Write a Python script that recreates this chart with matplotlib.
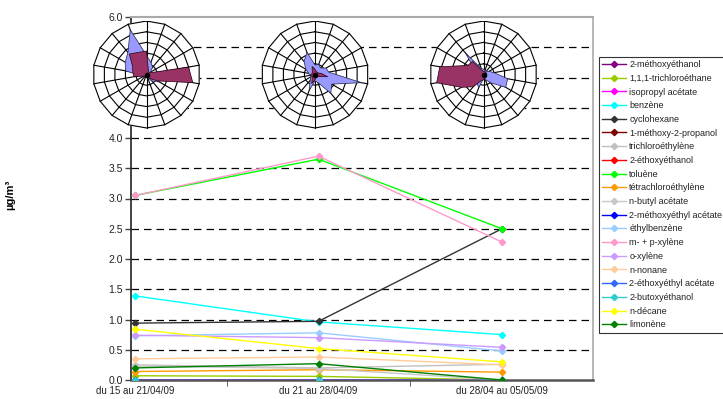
import matplotlib.pyplot as plt
import numpy as np
from matplotlib.lines import Line2D

plt.rcParams['font.family'] = ['Liberation Sans', 'DejaVu Sans']

###### DATA ####################
periods = ["du 15 au 21/04/09", "du 21 au 28/04/09", "du 28/04 au 05/05/09"]

compounds = ["2-méthoxyéthanol", "1,1,1-trichloroéthane", "isopropyl acétate",
             "benzène", "cyclohexane", "1-méthoxy-2-propanol", "trichloroéthylène",
             "2-éthoxyéthanol", "toluène", "tétrachloroéthylène", "n-butyl acétate",
             "2-méthoxyéthyl acétate", "éthylbenzène", "m- + p-xylène", "o-xylène",
             "n-nonane", "2-éthoxyéthyl acétate", "2-butoxyéthanol", "n-décane",
             "limonène"]

colors = ["#800080", "#99CC00", "#FF00FF", "#00FFFF", "#333333", "#800000",
          "#C0C0C0", "#FF0000", "#00FF00", "#FF9900", "#C8C8C8", "#0000FF",
          "#99CCFF", "#FF99CC", "#CC99FF", "#FFCC99", "#3366FF", "#33CCCC",
          "#FFFF00", "#008000"]

# concentrations in µg/m3, one list per compound (3 weeks)
methoxyethanol = [0.0, 0.0, 0.0]
trichloroethane = [0.07, 0.06, 0.0]
isopropyl_acetate = [0.0, 0.0, 0.0]
benzene = [1.39, 0.96, 0.75]
cyclohexane = [0.94, 0.97, 2.5]
methoxy_propanol = [0.0, 0.0, 0.0]
trichloroethylene = [0.25, 0.20, 0.26]
ethoxyethanol = [0.0, 0.0, 0.0]
toluene = [3.05, 3.65, 2.5]
tetrachloroethylene = [0.14, 0.17, 0.13]
butyl_acetate = [0.23, 0.19, 0.0]
methoxyethyl_acetate = [0.0, 0.0, 0.0]
ethylbenzene = [0.73, 0.78, 0.48]
mp_xylene = [3.05, 3.70, 2.28]
o_xylene = [0.74, 0.70, 0.54]
nonane = [0.35, 0.38, 0.25]
ethoxyethyl_acetate = [0.0, 0.0, 0.0]
butoxyethanol = [0.0, 0.0, 0.0]
decane = [0.84, 0.52, 0.30]
limonene = [0.20, 0.27, 0.0]

series = [methoxyethanol, trichloroethane, isopropyl_acetate, benzene, cyclohexane,
          methoxy_propanol, trichloroethylene, ethoxyethanol, toluene,
          tetrachloroethylene, butyl_acetate, methoxyethyl_acetate, ethylbenzene,
          mp_xylene, o_xylene, nonane, ethoxyethyl_acetate, butoxyethanol, decane,
          limonene]

# wind roses, 18 directions (every 20 deg, clockwise from north)
directions = np.arange(0, 360, 20)
rose_blue_1 = [1.8, 1.2, 0.9, 0.4, 0.3, 0.6, 1.4, 0.8, 0.3, 0.3, 0.3, 0.3, 0.3, 0.6, 2.0, 2.3, 2.7, 4.45]
rose_red_1 = [2.2, 0.5, 0.3, 0.3, 4.0, 4.4, 1.2, 0.5, 0.3, 0.3, 0.3, 0.3, 0.3, 1.2, 1.3, 1.5, 2.5, 2.2]
rose_blue_2 = [0.9, 1.0, 0.8, 1.2, 1.3, 4.4, 1.8, 2.3, 0.8, 0.6, 1.6, 0.7, 0.4, 0.5, 0.6, 1.0, 1.6, 2.2]
rose_red_2 = [0.5, 0.3, 0.3, 0.3, 0.6, 1.2, 0.4, 0.3, 0.3, 0.5, 0.9, 0.4, 0.3, 0.5, 0.3, 0.3, 0.4, 0.8]
rose_blue_3 = [0.5, 0.4, 0.4, 0.6, 1.0, 2.3, 2.4, 1.0, 0.5, 0.4, 1.3, 1.0, 0.8, 0.6, 0.5, 1.0, 2.6, 0.6]
rose_red_3 = [0.3, 0.3, 0.3, 0.3, 0.3, 0.3, 0.3, 0.3, 0.4, 0.5, 0.6, 1.5, 2.4, 4.45, 4.15, 1.7, 1.6, 0.4]
roses = [(rose_blue_1, rose_red_1), (rose_blue_2, rose_red_2), (rose_blue_3, rose_red_3)]
rose_max = 5

W, H = 723, 399
fig = plt.figure(figsize=(W / 100, H / 100), dpi=100)
ax = fig.add_axes([131 / W, 1 - 380 / H, (593 - 131) / W, (380 - 17) / H])

x = np.arange(len(periods))
for name, vals, c in zip(compounds, series, colors):
    ax.plot(x, vals, color=c, lw=1.0, marker='D', ms=3.2, label=name, zorder=3)

ax.set_xlim(-0.022, 2.496)
ax.set_ylim(0, 6)
ax.set_yticks(np.arange(0, 6.01, 0.5))
ax.set_yticklabels(["%.1f" % v for v in np.arange(0, 6.01, 0.5)], fontsize=7.5, color="#222222")
ax.set_xticks(x)
ax.set_xticklabels(periods, fontsize=7, color="#222222")
ax.tick_params(axis='x', length=0, pad=4)
ax.set_xticks([0.5, 1.5], minor=True)
ax.tick_params(axis='x', which='minor', length=4, color="#444444")
ax.tick_params(axis='y', length=4, width=1, color="#444444", pad=2)
for yv in np.arange(0.5, 6.0, 0.5):
    ax.axhline(yv, color="black", lw=0.9, dashes=(6, 4), zorder=1)
ax.spines['left'].set_color("#222222")
ax.spines['left'].set_linewidth(1.2)
ax.spines['bottom'].set_color("#555555")
ax.spines['bottom'].set_linewidth(1.8)
ax.spines['top'].set_color("#aaaaaa")
ax.spines['top'].set_linewidth(1.5)
ax.spines['right'].set_color("#aaaaaa")
ax.spines['right'].set_linewidth(1.2)
ax.set_ylabel("µg/m³", fontsize=8, fontweight='bold')
ax.yaxis.set_label_coords(-0.25, 0.51)

# wind roses on top of the chart
centers = [146.5, 315, 483.5]
cy, rad = 74.5, 54
theta = np.deg2rad(directions)
for cx, (blue, red) in zip(centers, roses):
    rax = fig.add_axes([(cx - rad) / W, 1 - (cy + rad) / H, 2 * rad / W, 2 * rad / H])
    rax.set_xlim(-rose_max * 1.01, rose_max * 1.01)
    rax.set_ylim(-rose_max * 1.01, rose_max * 1.01)
    rax.axis('off')
    ring_x = np.append(np.sin(theta), np.sin(theta[0]))
    ring_y = np.append(np.cos(theta), np.cos(theta[0]))
    rax.fill(ring_x * rose_max, ring_y * rose_max, color="white", zorder=0)
    for r in range(1, rose_max + 1):
        rax.plot(ring_x * r, ring_y * r, color="black", lw=0.8, zorder=1)
    for t in theta:
        rax.plot([0, rose_max * np.sin(t)], [0, rose_max * np.cos(t)], color="black", lw=0.8, zorder=1)
    b = np.array(blue)
    m = np.array(red)
    rax.fill(b * np.sin(theta), b * np.cos(theta), facecolor="#9999FF", edgecolor="#222244", lw=0.5, zorder=2)
    rax.fill(m * np.sin(theta), m * np.cos(theta), facecolor="#993366", edgecolor="#220011", lw=0.5, zorder=3)
    rax.plot(0, 0, 'o', color="black", ms=3, zorder=4)

handles = [Line2D([], [], color=c, lw=1.0, marker='D', ms=3.2) for c in colors]
leg = fig.legend(handles, compounds, loc='upper left', bbox_to_anchor=(599 / W, 1 - 57 / H),
                 fontsize=6.5, frameon=True, fancybox=False, handlelength=2.6,
                 handletextpad=0.4, labelspacing=0.52, borderpad=0.35, borderaxespad=0)
leg.get_frame().set_edgecolor("black")
leg.get_frame().set_linewidth(0.8)
for t in leg.get_texts():
    t.set_color("#222222")

fig.savefig("out.png", dpi=100)
